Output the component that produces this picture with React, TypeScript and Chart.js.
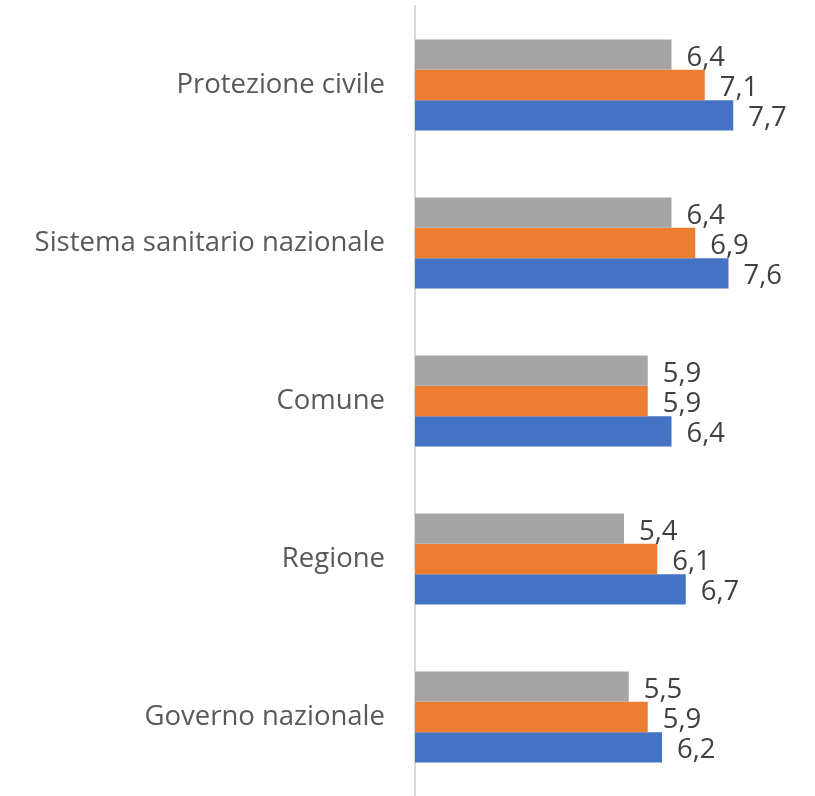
import React, { useEffect, useRef } from "react";
import { Chart, registerables } from "chart.js";

Chart.register(...registerables);

const categories = [
  "Protezione civile",
  "Sistema sanitario nazionale",
  "Comune",
  "Regione",
  "Governo nazionale",
];
const seriesGray = [6.4, 6.4, 5.9, 5.4, 5.5];
const seriesOrange = [7.1, 6.9, 5.9, 6.1, 5.9];
const seriesBlue = [7.7, 7.6, 6.4, 6.7, 6.2];
const axisMin = 1;
const axisMax = 9;

const FONT = "'Open Sans', 'Noto Sans', sans-serif";

const labelPlugin = {
  id: "valueLabels",
  afterDatasetsDraw(chart: any) {
    const ctx = chart.ctx;
    ctx.save();
    ctx.font = `27.5px ${FONT}`;
    ctx.fillStyle = "#404040";
    ctx.textAlign = "left";
    ctx.textBaseline = "middle";
    chart.data.datasets.forEach((ds: any, di: number) => {
      const meta = chart.getDatasetMeta(di);
      meta.data.forEach((el: any, i: number) => {
        const v = ds.data[i] as number;
        const txt = v.toFixed(1).replace(".", ",");
        ctx.fillText(txt, el.x + 15, el.y + 3);
      });
    });
    ctx.restore();
  },
};

export default function App() {
  const ref = useRef<HTMLCanvasElement | null>(null);
  useEffect(() => {
    if (!ref.current) return;
    const chart = new Chart(ref.current, {
      type: "bar",
      data: {
        labels: categories,
        datasets: [
          { data: seriesGray, backgroundColor: "#A5A5A5" },
          { data: seriesOrange, backgroundColor: "#ED7D31" },
          { data: seriesBlue, backgroundColor: "#4472C4" },
        ],
      },
      options: {
        indexAxis: "y",
        animation: false,
        responsive: false,
        maintainAspectRatio: false,
        layout: { padding: { top: 6, right: 20, bottom: 0, left: 0 } },
        datasets: {
          bar: { barPercentage: 1, categoryPercentage: 0.575 },
        },
        plugins: {
          legend: { display: false },
          tooltip: { enabled: false },
        },
        scales: {
          x: {
            display: false,
            min: axisMin,
            max: axisMax,
          },
          y: {
            grid: { display: false, drawTicks: false },
            border: { display: true, color: "#D9D9D9", width: 2 },
            ticks: {
              color: "#595959",
              font: { family: FONT, size: 27.5 },
              padding: 30,
            },
            afterFit(scale: any) {
              scale.width = 415;
              scale.paddingTop = 0;
              scale.paddingBottom = 0;
            },
          },
        },
      },
      plugins: [labelPlugin],
    });
    return () => chart.destroy();
  }, []);
  return (
    <div style={{ position: "absolute", left: 0, top: 0, width: 815, height: 796, background: "#fff" }}>
      <canvas ref={ref} width={815} height={796} />
    </div>
  );
}
